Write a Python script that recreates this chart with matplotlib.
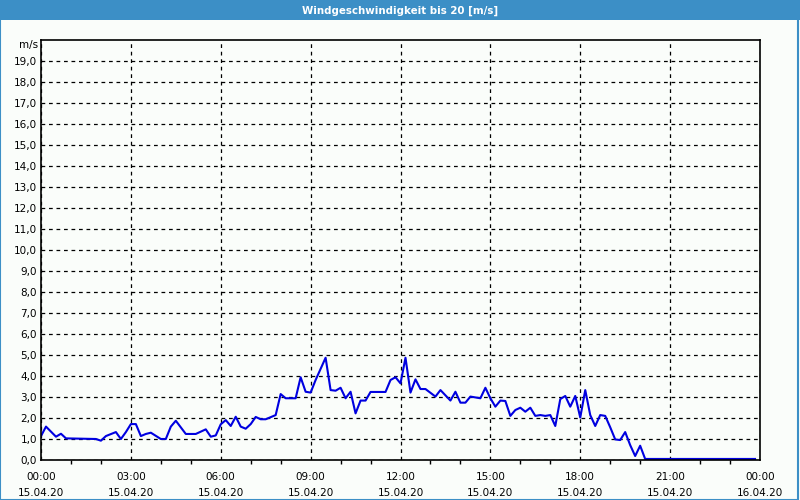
import numpy as np
import matplotlib.pyplot as plt
from matplotlib.patches import Rectangle

# wind speed readings, minutes after 00:00 on 15.04.20
minutes = [0, 10, 30, 40, 50, 110, 120, 130, 150, 160, 170, 180, 190, 200, 210,
           220, 240, 250, 260, 270, 290, 310, 330, 340, 350, 360, 370, 380, 390,
           400, 410, 420, 430, 440, 450, 470, 480, 490, 510, 520, 530, 540, 550,
           570, 580, 590, 600, 610, 620, 630, 640, 650, 660, 690, 700, 710, 720,
           730, 740, 750, 760, 770, 790, 800, 820, 830, 840, 850, 860, 880, 890,
           900, 910, 920, 930, 940, 950, 960, 970, 980, 990, 1000, 1010, 1020,
           1030, 1040, 1050, 1060, 1070, 1080, 1090, 1100, 1110, 1120, 1130,
           1140, 1150, 1160, 1170, 1180, 1190, 1200, 1210, 1430]
speed = [1.14, 1.59, 1.11, 1.25, 1.03, 1.0, 0.92, 1.14, 1.33, 1.0, 1.33, 1.71,
         1.71, 1.14, 1.24, 1.3, 1.0, 1.0, 1.59, 1.87, 1.24, 1.24, 1.46, 1.11,
         1.17, 1.7, 1.9, 1.62, 2.06, 1.59, 1.49, 1.71, 2.05, 1.94, 1.94, 2.14,
         3.14, 2.94, 2.94, 3.94, 3.25, 3.21, 3.81, 4.87, 3.33, 3.3, 3.44, 2.94,
         3.25, 2.22, 2.83, 2.83, 3.24, 3.24, 3.81, 3.94, 3.65, 4.87, 3.21, 3.84,
         3.38, 3.38, 3.02, 3.33, 2.83, 3.25, 2.73, 2.73, 3.02, 2.94, 3.44, 2.94,
         2.54, 2.83, 2.81, 2.10, 2.38, 2.49, 2.3, 2.49, 2.10, 2.14, 2.10, 2.14,
         1.62, 2.9, 3.05, 2.54, 3.05, 2.02, 3.33, 2.14, 1.62, 2.14, 2.1, 1.56,
         0.98, 0.95, 1.33, 0.71, 0.19, 0.68, 0.05, 0.05]

tick_hours = [0, 3, 6, 9, 12, 15, 18, 21, 24]
tick_labels = ["00:00\n15.04.20", "03:00\n15.04.20", "06:00\n15.04.20",
               "09:00\n15.04.20", "12:00\n15.04.20", "15:00\n15.04.20",
               "18:00\n15.04.20", "21:00\n15.04.20", "00:00\n16.04.20"]
title = "Windgeschwindigkeit bis 20 [m/s]"

bg = "#fafdfa"
blue = "#3c8fc6"

fig = plt.figure(figsize=(8, 5), dpi=100, facecolor=bg)

# title bar and frame
fig.patches.append(Rectangle((0, 0.96), 1, 0.04, transform=fig.transFigure,
                             facecolor=blue, edgecolor="none"))
fig.patches.append(Rectangle((0.0006, 0.001), 0.9975, 0.998, transform=fig.transFigure,
                             facecolor="none", edgecolor=blue, linewidth=1.5))
fig.text(0.5, 0.979, title, color="white", fontsize=7.4, fontweight="bold",
         ha="center", va="center")

ax = fig.add_axes([41 / 800, 40 / 500, 719 / 800, 420 / 500])
ax.set_facecolor(bg)

x = np.array(minutes) / 60.0
ax.plot(x, speed, color="#0000e0", linewidth=1.5)

ax.set_xlim(0, 24)
ax.set_ylim(0, 20)
ax.set_yticks(np.arange(0, 20))
ax.set_yticklabels([f"{v},0" for v in range(20)])
ax.set_xticks(tick_hours)
ax.set_xticklabels(tick_labels, linespacing=1.75)
ax.set_xticks(np.arange(0, 25), minor=True)

ax.tick_params(axis="y", length=0, pad=3, labelsize=7.5)
ax.tick_params(axis="x", which="major", length=0, pad=9, labelsize=7.5)
ax.tick_params(axis="x", which="minor", length=3, width=1, direction="out")

ax.grid(True, which="major", color="black", linestyle=(0, (3, 3)), linewidth=0.9)
for s in ax.spines.values():
    s.set_linewidth(1.2)

fig.text(38 / 800, 1 - 45 / 500, "m/s", fontsize=7.5, ha="right", va="center")

fig.savefig("out.png", dpi=100, facecolor=bg)
